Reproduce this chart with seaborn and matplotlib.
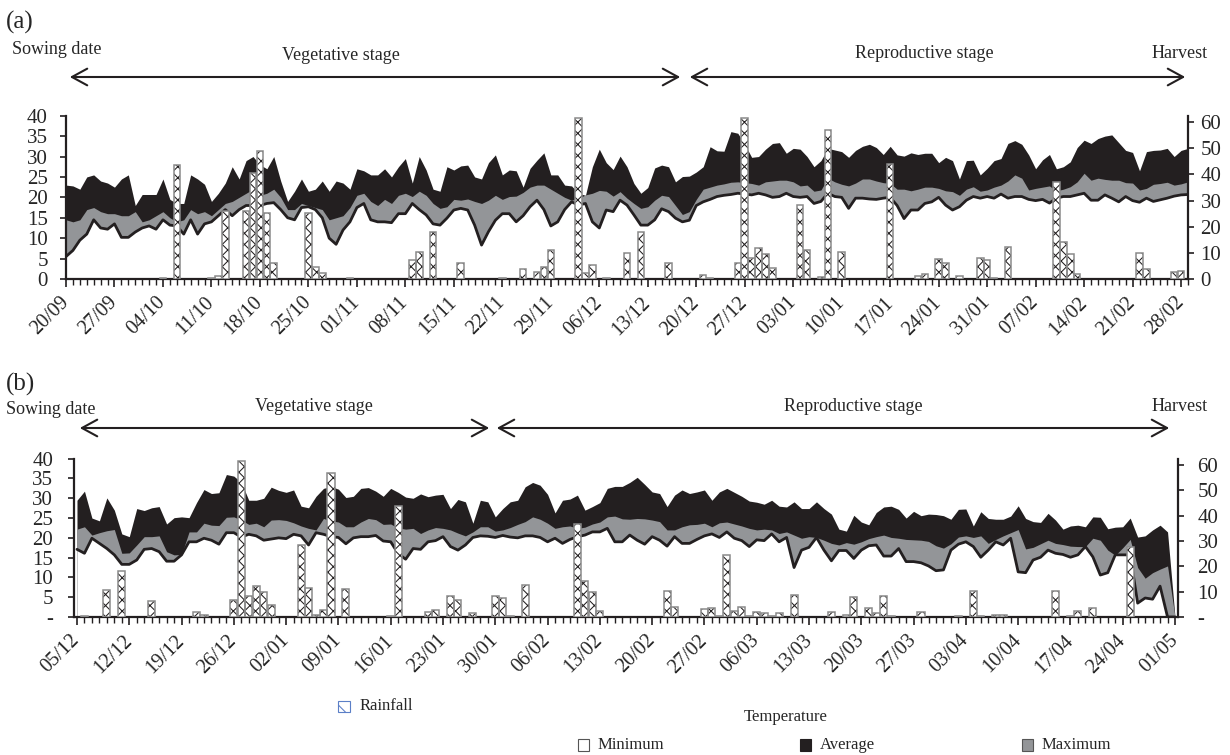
import numpy as np
import pandas as pd
import matplotlib
matplotlib.use('Agg')
import matplotlib.pyplot as plt
import seaborn as sns
from matplotlib.patches import Rectangle, FancyArrowPatch
from matplotlib.transforms import ScaledTranslation

# ---------------- data: panel (a), daily from 20/09 ----------------
a_labels = ['20/09', '27/09', '04/10', '11/10', '18/10', '25/10', '01/11', '08/11',
            '15/11', '22/11', '29/11', '06/12', '13/12', '20/12', '27/12', '03/01',
            '10/01', '17/01', '24/01', '31/01', '07/02', '14/02', '21/02', '28/02']

a_average = [23, 22.8, 22, 25, 25.5, 24, 23.5, 22.5, 24.5, 25.5,
             18, 20.7, 20.7, 20.7, 24.5, 19.5, 18.5, 18.5, 25.5, 24.5,
             23.2, 19, 21, 23.5, 27.5, 24.5, 29, 30, 28, 27,
             30, 24, 19, 21.5, 24.5, 21.5, 22, 24, 21.5, 24,
             23.5, 22, 27, 26.5, 25.5, 25.5, 27, 25, 27.5, 29.5,
             23.5, 30, 26.7, 22, 21.5, 27.5, 26.7, 27.7, 27.9, 25,
             24.5, 28.5, 30.4, 25.5, 26.7, 26.5, 22.5, 27.1, 29.1, 30.9,
             25.5, 25.5, 23, 22.8, 21, 20.5, 27.5, 31.8, 28.5, 26.8,
             30.1, 27.5, 23.4, 21, 22.4, 27.2, 27.9, 27.5, 23.8, 25.1,
             25.2, 26.2, 27.5, 32.4, 31.4, 31.3, 36.1, 35.7, 33, 29.8,
             30, 31.8, 33.2, 33.4, 30.8, 32, 31.8, 30, 27.5, 29,
             32, 31.6, 31.2, 29.8, 31.5, 32.5, 33, 32.2, 30.5, 32.5,
             30.4, 30.1, 30.9, 30.5, 30.8, 30.8, 28.5, 29.8, 29, 24.5,
             29, 29.1, 25.5, 27.1, 29, 29.5, 33.2, 33.9, 33, 30.4,
             27, 29.2, 30.5, 27, 27.5, 28.7, 32.2, 34, 33.2, 34.4,
             35, 35.3, 33.4, 31.5, 31, 26.5, 31.2, 31.5, 31.6, 32,
             30, 31.5, 32]

a_maximum = [14.5, 14, 14.5, 17, 17.5, 16.5, 16, 16, 15.5, 15.5,
             16.5, 14, 14.5, 15.5, 16.5, 15, 14, 14.5, 17, 16,
             16.5, 15.5, 17, 18.5, 19, 20, 21, 22, 20.5, 21,
             22, 20, 17, 17, 18.5, 18, 17.5, 17, 14.5, 15,
             15.5, 17.5, 20.5, 21, 19, 18, 19.5, 18.5, 20.5, 21,
             20.2, 21.5, 20.5, 18.5, 17.3, 17.7, 19.5, 19.3, 19.6, 19,
             18.5, 19.3, 20.5, 19.5, 20.2, 20.3, 21.2, 22.5, 23, 23,
             22, 21, 20, 19.3, 19.8, 20.6, 21, 21.7, 21.5, 20.3,
             21.4, 19.8, 18.5, 17.3, 17.7, 19.3, 20.5, 20.2, 18, 15.8,
             16.5, 19.5, 22, 22.5, 23, 23.3, 23.7, 23.8, 23.6, 23.4,
             23, 23.8, 24, 24.2, 24.2, 23.8, 22.8, 23, 21.5, 21.8,
             24.7, 23.8, 23.2, 22.8, 23.5, 24.5, 24.5, 24, 23.6, 23.4,
             22, 22, 21.6, 22, 22.5, 22.5, 22.2, 21.6, 21.4, 20.5,
             22, 22.6, 21.5, 21.8, 22.5, 23, 24, 25.5, 24.7, 21.8,
             22.2, 22.5, 22.8, 21.6, 22, 22.6, 23.8, 25.9, 24.2, 24.7,
             24.4, 24.2, 24.2, 23.6, 23.5, 21.8, 22.2, 23.2, 23.4, 23.7,
             23, 23.3, 23.8]

a_minimum = [5.5, 7, 9.5, 11, 14.5, 12.5, 12.2, 13.5, 10.2, 10.2,
             11.5, 12.5, 13, 12.2, 14.5, 13.2, 13, 11, 14.5, 11,
             13.5, 14, 15.5, 17, 15.5, 17, 18, 18, 18, 18.5,
             18.7, 17, 15, 14.5, 17.5, 17.7, 17, 15, 10, 8.5,
             12, 14, 17.5, 18.5, 14.5, 14, 14, 13.8, 16, 16,
             18.5, 17, 15.7, 13.5, 13.2, 14.9, 16.9, 17.3, 16.9, 13.2,
             8.3, 11.6, 14.4, 16, 16, 14, 15.5, 17.7, 19.3, 17,
             13, 14, 17, 18.9, 18.1, 18.5, 14, 12.5, 16.9, 16.5,
             19.3, 18.1, 15.7, 13.2, 13.2, 14.5, 17.2, 16.5, 14.9, 14,
             14.4, 18, 18.9, 19.5, 20.2, 20.5, 20.7, 21, 20.8, 20.6,
             21, 20.6, 20, 20.2, 21, 20.2, 20, 20.2, 18.5, 19,
             21, 20.2, 20, 17.3, 19.8, 19.8, 19.6, 19.5, 19.8, 20,
             18, 14.8, 16.9, 16.9, 18.5, 18.9, 20, 18.1, 16.9, 17.7,
             19.3, 20.2, 19.8, 20.2, 19.8, 20.8, 19.8, 20.2, 20.2, 19.5,
             19.2, 19.5, 18.6, 19.8, 20.2, 20.2, 20.6, 21, 19.3, 19.3,
             20.6, 19.8, 18.9, 20.2, 19.2, 18.8, 19.8, 19, 19.4, 19.8,
             20.3, 20.6, 20.7]

a_rain_day = [14, 16, 21, 22, 23, 26, 27, 28, 29, 30, 35, 36, 37, 41, 50, 51, 53, 57,
              63, 66, 68, 69, 70, 74, 75, 76, 78, 81, 83, 87, 92, 93, 97, 98, 99, 100,
              101, 102, 106, 107, 109, 110, 112, 119, 123, 124, 126, 127, 129, 132, 133,
              134, 136, 143, 144, 145, 146, 155, 156, 160, 161]
a_rain_mm = [0.5, 43.7, 0.3, 1.2, 26.2, 26, 40.5, 49, 25.2, 6, 25.2, 4.7, 2.2, 0.2, 7.3,
             10.2, 17.9, 6, 0.3, 4, 2.8, 4.7, 11, 61.8, 2.4, 5.2, 0.2, 10, 17.8, 6, 1.5,
             0.4, 6.3, 61.8, 7.9, 11.7, 9.5, 4.1, 28.3, 11.1, 0.8, 57, 10.5, 44, 1.2, 2,
             7.8, 6.2, 1, 7.9, 7.3, 0.3, 12.4, 37, 14, 9.5, 1.8, 9.8, 3.7, 2.8, 3.1]

# ---------------- data: panel (b), daily from 05/12 ----------------
b_labels = ['05/12', '12/12', '19/12', '26/12', '02/01', '09/01', '16/01', '23/01',
            '30/01', '06/02', '13/02', '20/02', '27/02', '06/03', '13/03', '20/03',
            '27/03', '03/04', '10/04', '17/04', '24/04', '01/05']

b_average = [29.5, 31.8, 25, 24.3, 30.1, 27, 21, 20.3, 27.4, 26.9,
             27.6, 27.9, 23.5, 25.1, 25.3, 25.1, 28.9, 32.2, 31.2, 31.4,
             36, 35.6, 34, 29.5, 29.5, 30, 32.8, 32, 31.5, 32.1,
             28, 27.6, 30.5, 32.5, 33, 32.3, 30.2, 30.5, 32.5, 32.7,
             31.8, 30.5, 32.5, 31.5, 30.3, 30, 31.1, 30.4, 30.8, 31,
             27.4, 29.7, 29.1, 23.7, 29.5, 29.1, 25.3, 27.4, 29.1, 29.5,
             32.9, 34, 33.3, 31, 26.3, 29.5, 29.8, 30.8, 27, 27.9,
             28.9, 32.5, 33, 33, 34, 35.3, 33.5, 31.6, 31.2, 27.9,
             30.8, 32.1, 31.2, 31.6, 32.1, 29.5, 31.6, 32.5, 31.5, 30.5,
             29.3, 29, 28.5, 29.5, 28, 27.8, 29.1, 27.4, 27.4, 29.1,
             27.4, 26, 22.2, 21.7, 25.7, 24, 23.3, 26.4, 27.8, 28,
             27.2, 25, 26.7, 25.6, 26, 25.9, 25.6, 24.7, 27.2, 27.3,
             23, 26.6, 24.9, 24.7, 24.7, 25.5, 28.1, 24.9, 24.1, 23.9,
             26.2, 24.5, 22.2, 23, 23.2, 22.8, 25.3, 25.2, 22.3, 22.7,
             22.8, 25, 20.2, 20.5, 22, 23.2, 21.5, 0]

b_maximum = [22.2, 22.8, 20.7, 21.3, 21.8, 22.1, 16.1, 16.2, 18.2, 20.3,
             20.3, 20.5, 16.5, 15.7, 15.8, 21.5, 21.5, 23.7, 23.2, 23.1,
             25.2, 25.3, 24.5, 23.4, 23.7, 22.8, 24.5, 24.6, 24.4, 23.8,
             23, 22.4, 22, 24.9, 24.3, 24, 22.8, 22.8, 24, 24.9,
             24.6, 23.4, 23.5, 22.5, 22.2, 22.4, 21.1, 22, 22.6, 22.4,
             22, 21.2, 20.5, 21.5, 22.8, 22.8, 21.7, 22, 22.6, 23.4,
             24.1, 25.3, 24.7, 23.7, 22.4, 22.8, 23, 22.4, 22.7, 23.5,
             24, 25.3, 25.5, 24.8, 24.7, 24.9, 24.8, 24.5, 24.1, 22,
             22, 22.8, 23.3, 23.4, 23.7, 22.8, 23.8, 24, 23.5, 23,
             22.4, 22, 22.2, 22, 21.1, 21.5, 20.7, 19.9, 20.3, 20.1,
             19.4, 18.6, 18.2, 18.8, 18.4, 19, 19.8, 20.3, 20.7, 20.1,
             19.9, 19.6, 19.5, 19.4, 19.1, 18, 17.4, 18.5, 20.2, 20.5,
             20.1, 20.5, 18.6, 19.6, 20.5, 21.3, 22.1, 17.2, 17.6, 18.5,
             19.4, 18.6, 18.3, 17.9, 17.8, 17.8, 19.9, 19.4, 16.9, 15.6,
             17.5, 19.6, 12.5, 9.8, 11.2, 12.1, 12.9, 0]

b_minimum = [17.1, 16.1, 19.9, 18.6, 17.3, 15.7, 13.3, 13.3, 14.4, 17.1,
             17.3, 16.5, 14.1, 14.1, 15.7, 19, 19, 19.9, 19.4, 18.4,
             21.3, 21.3, 20.2, 20.9, 20.5, 19.4, 19.7, 20, 19.8, 20.9,
             20.5, 18.2, 21.3, 20.9, 20.3, 20.1, 18.5, 20, 20.3, 20.3,
             20.6, 19.2, 19, 16, 14.6, 17.3, 17.1, 19, 19.3, 20.3,
             17.8, 16.9, 18.2, 20.1, 20.5, 20.4, 20.1, 20.6, 20.2, 20,
             20.5, 20.5, 20.1, 19, 19.9, 18.6, 19.6, 20.3, 20.7, 21.5,
             21.5, 22.4, 19, 19, 20.7, 19.4, 18.4, 20.3, 19.4, 17.9,
             20.3, 18.6, 18.6, 19.6, 20.5, 21, 20.1, 21.5, 19.9, 19.3,
             17.8, 19.5, 19.3, 21, 19, 20.1, 12.5, 16.9, 17.6, 20.1,
             16.9, 14.2, 16.8, 16.8, 14.8, 16.9, 18, 18.2, 15.4, 15.4,
             17.3, 14, 14, 13.7, 12.9, 11.7, 11.9, 16.9, 18.4, 19,
             17.8, 15.1, 16.9, 19, 18.2, 19.9, 11.4, 11.2, 14.4, 15.1,
             16.9, 16.1, 15.8, 15.1, 15.7, 17.8, 15.2, 10.6, 11.2, 15.7,
             15.7, 15.7, 3.5, 4.8, 4.5, 7.8, 0, 0]

b_rain_day = [1, 4, 6, 10, 16, 17, 21, 22, 23, 24, 25, 26, 30, 31, 32, 33, 34, 36, 42,
              43, 47, 48, 50, 51, 53, 56, 57, 58, 60, 67, 68, 69, 70, 79, 80, 84, 85,
              86, 87, 88, 89, 90, 91, 92, 93, 94, 96, 101, 103, 104, 106, 107, 108, 109,
              113, 118, 120, 121, 123, 124, 131, 133, 134, 136, 141]
b_rain_mm = [0.3, 10.6, 18.1, 6.5, 2, 0.7, 6.7, 61.5, 8.2, 12.2, 10, 4.7, 28.6, 11.5,
             0.7, 2.6, 57, 11.1, 0.3, 43.9, 2, 2.6, 8.3, 6.7, 1.7, 8.3, 7.5, 0.5, 12.7,
             36.7, 14.4, 9.8, 2.4, 10.2, 3.9, 3.3, 3.7, 0.5, 24.6, 2.5, 4.1, 0.3, 1.8,
             1.6, 0.5, 1.4, 8.5, 1.8, 0.8, 8, 3.4, 1.4, 8.3, 0.3, 1.8, 0.3, 10.4, 0.5,
             0.8, 0.8, 10.3, 0.5, 2.2, 3.4, 27.8]

# ---------------- style ----------------
sns.set_theme(style='ticks')
plt.rcParams['font.family'] = ['Liberation Serif', 'DejaVu Serif']
plt.rcParams['hatch.linewidth'] = 0.75

INK = '#231f20'
GREY = '#939598'
W, H = 1230, 755


def fx(px):
    return px / W


def fy(py):
    return 1 - py / H


fig = plt.figure(figsize=(12.3, 7.55), dpi=100)


def draw_panel(left, right, top, bottom, xlo, xhi, avg, mx, mn, rday, rmm,
               labels, zero_lab, lpad, rpad):
    ax = fig.add_axes([fx(left), fy(bottom), fx(right - left), (bottom - top) / H])
    df = pd.DataFrame({'day': np.arange(len(avg)), 'avg': avg, 'max': mx, 'min': mn})
    ax.fill_between(df['day'], 0, df['avg'], color=INK, lw=0)
    ax.fill_between(df['day'], 0, df['max'], color=GREY, lw=0)
    ax.fill_between(df['day'], 0, df['min'], color='white', lw=0)
    sns.lineplot(data=df, x='day', y='min', ax=ax, color=INK, lw=2.0)
    ax.set_xlim(xlo, xhi)
    ax.set_ylim(0, 40)
    ax.set_xlabel('')
    ax.set_ylabel('')

    ax.set_xticks(np.arange(0, len(avg), 7))
    ax.set_xticks(np.arange(0, len(avg)), minor=True)
    ax.set_xticklabels(labels, rotation=45, ha='right', va='center',
                       rotation_mode='anchor', fontsize=14.5)
    off = ScaledTranslation(5 / 100, 0, fig.dpi_scale_trans)
    for lab in ax.get_xticklabels():
        lab.set_transform(lab.get_transform() + off)
    ax.set_yticks(np.arange(0, 41, 5))
    ax.set_yticklabels([zero_lab] + [str(v) for v in range(5, 41, 5)], fontsize=15)
    ax.tick_params(axis='x', which='major', length=6, width=1.2, color=INK, pad=9)
    ax.tick_params(axis='x', which='minor', length=4, width=1.0, color=INK)
    ax.tick_params(axis='y', length=4, width=1.2, color=INK, pad=lpad)
    for s in ['top', 'right']:
        ax.spines[s].set_visible(False)
    for s in ['left', 'bottom']:
        ax.spines[s].set_linewidth(1.6)
        ax.spines[s].set_color(INK)

    ax2 = ax.twinx()
    ax2.bar(rday, rmm, width=0.95, facecolor='white', edgecolor=INK,
            hatch='xxx', lw=0, zorder=2)
    ax2.bar(rday, rmm, width=0.95, fill=False, edgecolor='#8a8a8a', lw=1.1, zorder=3)
    ax2.set_ylim(0, 62.5)
    ax2.set_yticks(np.arange(0, 61, 10))
    ax2.set_yticklabels([zero_lab] + [str(v) for v in range(10, 61, 10)], fontsize=15)
    ax2.tick_params(axis='y', length=4, width=1.2, color=INK, pad=rpad)
    for s in ['top', 'left', 'bottom']:
        ax2.spines[s].set_visible(False)
    ax2.spines['right'].set_linewidth(1.6)
    ax2.spines['right'].set_color(INK)
    return ax


def stage_arrow(x1, x2, y):
    arr = FancyArrowPatch((fx(x1), fy(y)), (fx(x2), fy(y)), transform=fig.transFigure,
                          arrowstyle='<->,head_length=0.55,head_width=0.3',
                          mutation_scale=20, lw=1.5, color=INK)
    fig.add_artist(arr)


# panel (a)
draw_panel(66, 1188, 115.7, 279, 0, 162, a_average, a_maximum, a_minimum,
           a_rain_day, a_rain_mm, a_labels, '0', 9, 5)
fig.text(fx(6), fy(22), '(a)', fontsize=18, va='center', ha='left')
fig.text(fx(12), fy(49), 'Sowing date', fontsize=13, va='center', ha='left')
fig.text(fx(341), fy(56), 'Vegetative stage', fontsize=13, va='center', ha='center')
fig.text(fx(924), fy(54), 'Reproductive stage', fontsize=13, va='center', ha='center')
fig.text(fx(1208), fy(54), 'Harvest', fontsize=13, va='center', ha='right')
stage_arrow(67, 683, 77)
stage_arrow(687, 1188, 77)

# panel (b)
draw_panel(74, 1178, 458.7, 617, -0.4, 147.4, b_average, b_maximum, b_minimum,
           b_rain_day, b_rain_mm, b_labels, '-', 11, 10)
fig.text(fx(6), fy(384), '(b)', fontsize=18, va='center', ha='left')
fig.text(fx(6), fy(410), 'Sowing date', fontsize=13, va='center', ha='left')
fig.text(fx(314), fy(407), 'Vegetative stage', fontsize=13, va='center', ha='center')
fig.text(fx(853), fy(407), 'Reproductive stage', fontsize=13, va='center', ha='center')
fig.text(fx(1208), fy(407), 'Harvest', fontsize=13, va='center', ha='right')
stage_arrow(77, 492, 428)
stage_arrow(494, 1172, 428)

# legend
fig.add_artist(Rectangle((fx(338), fy(712)), 12 / W, 11 / H, transform=fig.transFigure,
                         facecolor='white', edgecolor='#5b7fc7', hatch='x', lw=0.8))
fig.text(fx(360), fy(706), 'Rainfall', fontsize=12, va='center', ha='left')
fig.text(fx(786), fy(717), 'Temperature', fontsize=12, va='center', ha='center')
fig.add_artist(Rectangle((fx(578), fy(751)), 11 / W, 12 / H, transform=fig.transFigure,
                         facecolor='white', edgecolor='#555555', lw=0.8))
fig.text(fx(598), fy(745), 'Minimum', fontsize=12, va='center', ha='left')
fig.add_artist(Rectangle((fx(800), fy(751)), 11 / W, 12 / H, transform=fig.transFigure,
                         facecolor=INK, edgecolor=INK, lw=0.8))
fig.text(fx(820), fy(745), 'Average', fontsize=12, va='center', ha='left')
fig.add_artist(Rectangle((fx(1022), fy(751)), 11 / W, 12 / H, transform=fig.transFigure,
                         facecolor=GREY, edgecolor='#555555', lw=0.8))
fig.text(fx(1042), fy(745), 'Maximum', fontsize=12, va='center', ha='left')

fig.savefig('out.png', dpi=100)
